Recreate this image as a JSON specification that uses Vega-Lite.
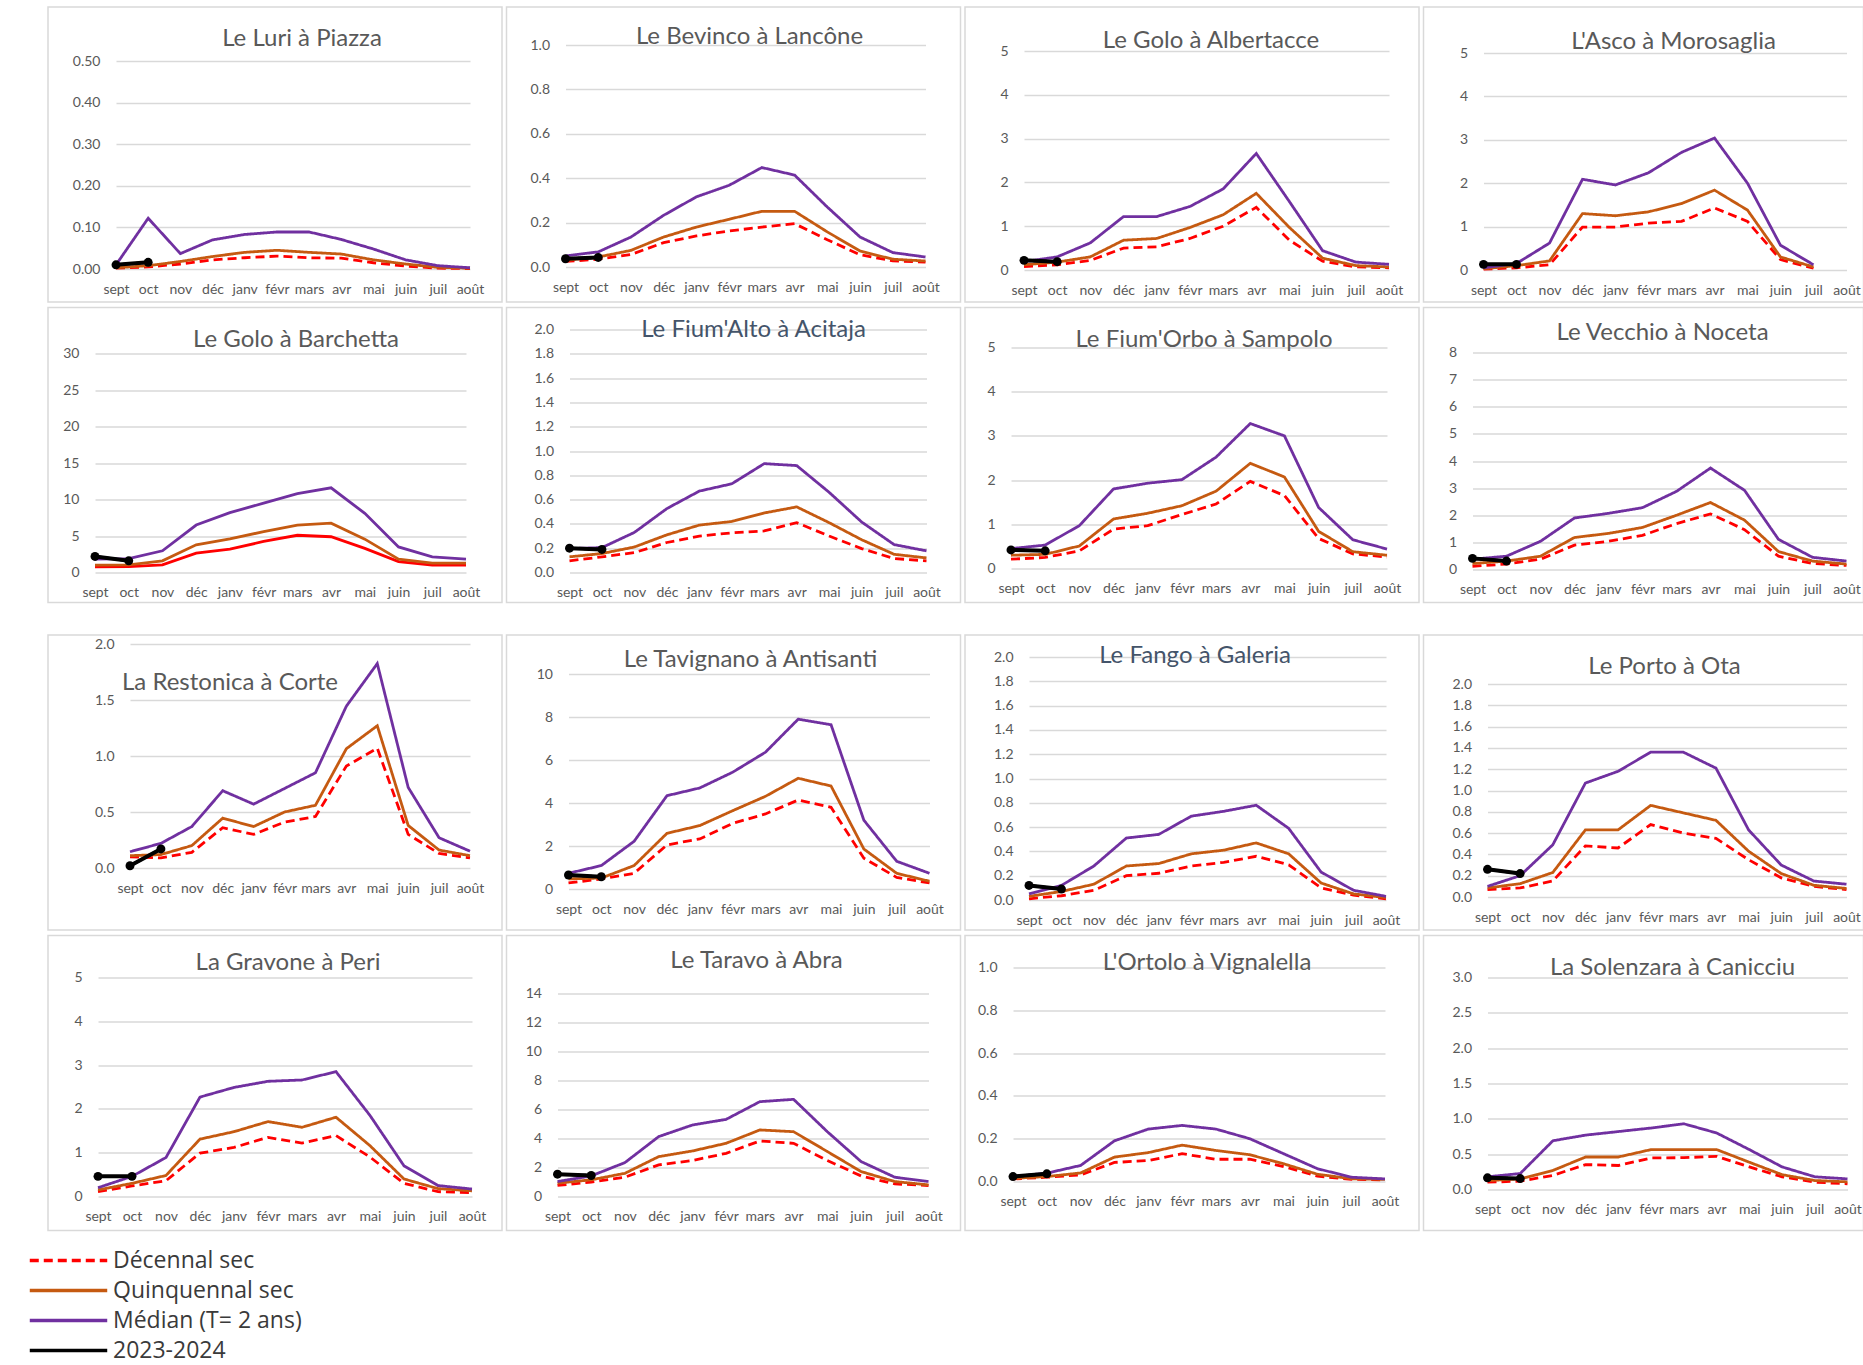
{
"$schema":"https://vega.github.io/schema/vega-lite/v6.json",
"padding":{"left":26,"top":6,"right":0,"bottom":0},
"background":"white",
"data":{"values":[
{"s":"p1","mois":"sept","dec":0.002,"quin":0.003,"med":0.010,"obs":0.010},
{"s":"p1","mois":"oct","dec":0.005,"quin":0.008,"med":0.122,"obs":0.016},
{"s":"p1","mois":"nov","dec":0.012,"quin":0.018,"med":0.037},
{"s":"p1","mois":"déc","dec":0.022,"quin":0.030,"med":0.070},
{"s":"p1","mois":"janv","dec":0.027,"quin":0.040,"med":0.083},
{"s":"p1","mois":"févr","dec":0.031,"quin":0.045,"med":0.089},
{"s":"p1","mois":"mars","dec":0.027,"quin":0.040,"med":0.089},
{"s":"p1","mois":"avr","dec":0.026,"quin":0.036,"med":0.071},
{"s":"p1","mois":"mai","dec":0.015,"quin":0.022,"med":0.048},
{"s":"p1","mois":"juin","dec":0.007,"quin":0.012,"med":0.022},
{"s":"p1","mois":"juil","dec":0.002,"quin":0.004,"med":0.008},
{"s":"p1","mois":"août","dec":0.001,"quin":0.002,"med":0.003},
{"s":"p2","mois":"sept","dec":0.025,"quin":0.030,"med":0.050,"obs":0.037},
{"s":"p2","mois":"oct","dec":0.035,"quin":0.045,"med":0.068,"obs":0.043},
{"s":"p2","mois":"nov","dec":0.056,"quin":0.075,"med":0.135},
{"s":"p2","mois":"déc","dec":0.110,"quin":0.135,"med":0.233},
{"s":"p2","mois":"janv","dec":0.140,"quin":0.180,"med":0.316},
{"s":"p2","mois":"févr","dec":0.162,"quin":0.215,"med":0.368},
{"s":"p2","mois":"mars","dec":0.180,"quin":0.251,"med":0.448},
{"s":"p2","mois":"avr","dec":0.195,"quin":0.251,"med":0.414},
{"s":"p2","mois":"mai","dec":0.123,"quin":0.158,"med":0.270},
{"s":"p2","mois":"juin","dec":0.055,"quin":0.072,"med":0.135},
{"s":"p2","mois":"juil","dec":0.028,"quin":0.035,"med":0.065},
{"s":"p2","mois":"août","dec":0.022,"quin":0.027,"med":0.045},
{"s":"p3","mois":"sept","dec":0.08,"quin":0.12,"med":0.19,"obs":0.22},
{"s":"p3","mois":"oct","dec":0.12,"quin":0.18,"med":0.30,"obs":0.19},
{"s":"p3","mois":"nov","dec":0.22,"quin":0.30,"med":0.62},
{"s":"p3","mois":"déc","dec":0.50,"quin":0.68,"med":1.22},
{"s":"p3","mois":"janv","dec":0.53,"quin":0.72,"med":1.22},
{"s":"p3","mois":"févr","dec":0.72,"quin":0.97,"med":1.45},
{"s":"p3","mois":"mars","dec":1.00,"quin":1.26,"med":1.85},
{"s":"p3","mois":"avr","dec":1.43,"quin":1.75,"med":2.66},
{"s":"p3","mois":"mai","dec":0.68,"quin":0.97,"med":1.56},
{"s":"p3","mois":"juin","dec":0.20,"quin":0.27,"med":0.44},
{"s":"p3","mois":"juil","dec":0.07,"quin":0.10,"med":0.18},
{"s":"p3","mois":"août","dec":0.05,"quin":0.07,"med":0.13},
{"s":"p4","mois":"sept","dec":0.02,"quin":0.03,"med":0.05,"obs":0.13},
{"s":"p4","mois":"oct","dec":0.05,"quin":0.10,"med":0.15,"obs":0.13},
{"s":"p4","mois":"nov","dec":0.12,"quin":0.21,"med":0.62},
{"s":"p4","mois":"déc","dec":0.99,"quin":1.30,"med":2.09},
{"s":"p4","mois":"janv","dec":0.99,"quin":1.25,"med":1.96},
{"s":"p4","mois":"févr","dec":1.08,"quin":1.34,"med":2.24},
{"s":"p4","mois":"mars","dec":1.12,"quin":1.53,"med":2.71},
{"s":"p4","mois":"avr","dec":1.43,"quin":1.84,"med":3.04},
{"s":"p4","mois":"mai","dec":1.12,"quin":1.38,"med":2.00},
{"s":"p4","mois":"juin","dec":0.24,"quin":0.30,"med":0.57},
{"s":"p4","mois":"juil","dec":0.04,"quin":0.07,"med":0.12},
{"s":"p5","mois":"sept","dec":0.78,"quin":1.00,"med":1.83,"obs":2.2},
{"s":"p5","mois":"oct","dec":0.80,"quin":1.05,"med":1.90,"obs":1.6},
{"s":"p5","mois":"nov","dec":1.05,"quin":1.6,"med":2.97},
{"s":"p5","mois":"déc","dec":2.65,"quin":3.8,"med":6.5},
{"s":"p5","mois":"janv","dec":3.2,"quin":4.6,"med":8.2},
{"s":"p5","mois":"févr","dec":4.25,"quin":5.6,"med":9.5},
{"s":"p5","mois":"mars","dec":5.1,"quin":6.5,"med":10.8},
{"s":"p5","mois":"avr","dec":4.9,"quin":6.76,"med":11.6},
{"s":"p5","mois":"mai","dec":3.3,"quin":4.57,"med":8.1},
{"s":"p5","mois":"juin","dec":1.5,"quin":1.83,"med":3.5},
{"s":"p5","mois":"juil","dec":1.0,"quin":1.28,"med":2.15},
{"s":"p5","mois":"août","dec":1.0,"quin":1.28,"med":1.83},
{"s":"p6","mois":"sept","dec":0.096,"quin":0.129,"med":0.197,"obs":0.20},
{"s":"p6","mois":"oct","dec":0.129,"quin":0.156,"med":0.205,"obs":0.19},
{"s":"p6","mois":"nov","dec":0.164,"quin":0.21,"med":0.33},
{"s":"p6","mois":"déc","dec":0.247,"quin":0.31,"med":0.526},
{"s":"p6","mois":"janv","dec":0.30,"quin":0.39,"med":0.67},
{"s":"p6","mois":"févr","dec":0.326,"quin":0.42,"med":0.73},
{"s":"p6","mois":"mars","dec":0.342,"quin":0.49,"med":0.896},
{"s":"p6","mois":"avr","dec":0.41,"quin":0.54,"med":0.88},
{"s":"p6","mois":"mai","dec":0.30,"quin":0.41,"med":0.66},
{"s":"p6","mois":"juin","dec":0.197,"quin":0.27,"med":0.416},
{"s":"p6","mois":"juil","dec":0.115,"quin":0.15,"med":0.23},
{"s":"p6","mois":"août","dec":0.096,"quin":0.12,"med":0.178},
{"s":"p7","mois":"sept","dec":0.21,"quin":0.30,"med":0.45,"obs":0.42},
{"s":"p7","mois":"oct","dec":0.25,"quin":0.32,"med":0.53,"obs":0.40},
{"s":"p7","mois":"nov","dec":0.40,"quin":0.51,"med":0.97},
{"s":"p7","mois":"déc","dec":0.89,"quin":1.12,"med":1.80},
{"s":"p7","mois":"janv","dec":0.97,"quin":1.25,"med":1.93},
{"s":"p7","mois":"févr","dec":1.22,"quin":1.42,"med":2.01},
{"s":"p7","mois":"mars","dec":1.46,"quin":1.75,"med":2.52},
{"s":"p7","mois":"avr","dec":1.97,"quin":2.38,"med":3.28},
{"s":"p7","mois":"mai","dec":1.65,"quin":2.07,"med":3.00},
{"s":"p7","mois":"juin","dec":0.68,"quin":0.84,"med":1.38},
{"s":"p7","mois":"juil","dec":0.33,"quin":0.38,"med":0.65},
{"s":"p7","mois":"août","dec":0.26,"quin":0.30,"med":0.44},
{"s":"p8","mois":"sept","dec":0.12,"quin":0.22,"med":0.38,"obs":0.41},
{"s":"p8","mois":"oct","dec":0.20,"quin":0.31,"med":0.49,"obs":0.31},
{"s":"p8","mois":"nov","dec":0.38,"quin":0.49,"med":1.04},
{"s":"p8","mois":"déc","dec":0.90,"quin":1.18,"med":1.90},
{"s":"p8","mois":"janv","dec":1.04,"quin":1.33,"med":2.07},
{"s":"p8","mois":"févr","dec":1.26,"quin":1.55,"med":2.28},
{"s":"p8","mois":"mars","dec":1.69,"quin":2.00,"med":2.88},
{"s":"p8","mois":"avr","dec":2.05,"quin":2.47,"med":3.74},
{"s":"p8","mois":"mai","dec":1.47,"quin":1.82,"med":2.92},
{"s":"p8","mois":"juin","dec":0.49,"quin":0.66,"med":1.11},
{"s":"p8","mois":"juil","dec":0.22,"quin":0.31,"med":0.45},
{"s":"p8","mois":"août","dec":0.15,"quin":0.20,"med":0.31},
{"s":"p9","mois":"sept","dec":0.10,"quin":0.11,"med":0.145,"obs":0.02},
{"s":"p9","mois":"oct","dec":0.09,"quin":0.12,"med":0.22,"obs":0.17},
{"s":"p9","mois":"nov","dec":0.14,"quin":0.20,"med":0.37},
{"s":"p9","mois":"déc","dec":0.36,"quin":0.445,"med":0.69},
{"s":"p9","mois":"janv","dec":0.30,"quin":0.37,"med":0.57},
{"s":"p9","mois":"févr","dec":0.41,"quin":0.50,"med":0.71},
{"s":"p9","mois":"mars","dec":0.46,"quin":0.56,"med":0.85},
{"s":"p9","mois":"avr","dec":0.91,"quin":1.065,"med":1.445},
{"s":"p9","mois":"mai","dec":1.07,"quin":1.27,"med":1.825},
{"s":"p9","mois":"juin","dec":0.30,"quin":0.38,"med":0.72},
{"s":"p9","mois":"juil","dec":0.13,"quin":0.16,"med":0.27},
{"s":"p9","mois":"août","dec":0.09,"quin":0.11,"med":0.15},
{"s":"p10","mois":"sept","dec":0.28,"quin":0.47,"med":0.73,"obs":0.65},
{"s":"p10","mois":"oct","dec":0.47,"quin":0.51,"med":1.09,"obs":0.57},
{"s":"p10","mois":"nov","dec":0.73,"quin":1.09,"med":2.22},
{"s":"p10","mois":"déc","dec":2.05,"quin":2.59,"med":4.34},
{"s":"p10","mois":"janv","dec":2.33,"quin":2.95,"med":4.70},
{"s":"p10","mois":"févr","dec":3.05,"quin":3.64,"med":5.43},
{"s":"p10","mois":"mars","dec":3.49,"quin":4.31,"med":6.36},
{"s":"p10","mois":"avr","dec":4.14,"quin":5.15,"med":7.90},
{"s":"p10","mois":"mai","dec":3.80,"quin":4.79,"med":7.64},
{"s":"p10","mois":"juin","dec":1.43,"quin":1.86,"med":3.20},
{"s":"p10","mois":"juil","dec":0.54,"quin":0.73,"med":1.29},
{"s":"p10","mois":"août","dec":0.28,"quin":0.36,"med":0.73},
{"s":"p11","mois":"sept","dec":0.01,"quin":0.03,"med":0.05,"obs":0.12},
{"s":"p11","mois":"oct","dec":0.035,"quin":0.07,"med":0.12,"obs":0.09},
{"s":"p11","mois":"nov","dec":0.08,"quin":0.13,"med":0.28},
{"s":"p11","mois":"déc","dec":0.20,"quin":0.28,"med":0.51},
{"s":"p11","mois":"janv","dec":0.22,"quin":0.30,"med":0.54},
{"s":"p11","mois":"févr","dec":0.28,"quin":0.38,"med":0.69},
{"s":"p11","mois":"mars","dec":0.31,"quin":0.41,"med":0.73},
{"s":"p11","mois":"avr","dec":0.36,"quin":0.47,"med":0.78},
{"s":"p11","mois":"mai","dec":0.29,"quin":0.38,"med":0.59},
{"s":"p11","mois":"juin","dec":0.10,"quin":0.14,"med":0.23},
{"s":"p11","mois":"juil","dec":0.04,"quin":0.05,"med":0.08},
{"s":"p11","mois":"août","dec":0.01,"quin":0.02,"med":0.03},
{"s":"p12","mois":"sept","dec":0.07,"quin":0.085,"med":0.10,"obs":0.26},
{"s":"p12","mois":"oct","dec":0.085,"quin":0.125,"med":0.20,"obs":0.22},
{"s":"p12","mois":"nov","dec":0.15,"quin":0.23,"med":0.49},
{"s":"p12","mois":"déc","dec":0.48,"quin":0.63,"med":1.07},
{"s":"p12","mois":"janv","dec":0.46,"quin":0.63,"med":1.18},
{"s":"p12","mois":"févr","dec":0.68,"quin":0.86,"med":1.36},
{"s":"p12","mois":"mars","dec":0.60,"quin":0.79,"med":1.36},
{"s":"p12","mois":"avr","dec":0.55,"quin":0.72,"med":1.21},
{"s":"p12","mois":"mai","dec":0.35,"quin":0.43,"med":0.63},
{"s":"p12","mois":"juin","dec":0.18,"quin":0.22,"med":0.30},
{"s":"p12","mois":"juil","dec":0.10,"quin":0.11,"med":0.15},
{"s":"p12","mois":"août","dec":0.07,"quin":0.08,"med":0.12},
{"s":"p13","mois":"sept","dec":0.11,"quin":0.15,"med":0.20,"obs":0.46},
{"s":"p13","mois":"oct","dec":0.24,"quin":0.30,"med":0.46,"obs":0.46},
{"s":"p13","mois":"nov","dec":0.36,"quin":0.48,"med":0.89},
{"s":"p13","mois":"déc","dec":0.99,"quin":1.31,"med":2.27},
{"s":"p13","mois":"janv","dec":1.12,"quin":1.48,"med":2.49},
{"s":"p13","mois":"févr","dec":1.35,"quin":1.71,"med":2.63},
{"s":"p13","mois":"mars","dec":1.22,"quin":1.58,"med":2.66},
{"s":"p13","mois":"avr","dec":1.39,"quin":1.81,"med":2.85},
{"s":"p13","mois":"mai","dec":0.90,"quin":1.16,"med":1.85},
{"s":"p13","mois":"juin","dec":0.30,"quin":0.40,"med":0.70},
{"s":"p13","mois":"juil","dec":0.11,"quin":0.18,"med":0.25},
{"s":"p13","mois":"août","dec":0.09,"quin":0.13,"med":0.17},
{"s":"p14","mois":"sept","dec":0.76,"quin":0.92,"med":1.03,"obs":1.54},
{"s":"p14","mois":"oct","dec":0.99,"quin":1.15,"med":1.42,"obs":1.45},
{"s":"p14","mois":"nov","dec":1.33,"quin":1.60,"med":2.34},
{"s":"p14","mois":"déc","dec":2.18,"quin":2.75,"med":4.13},
{"s":"p14","mois":"janv","dec":2.48,"quin":3.14,"med":4.93},
{"s":"p14","mois":"févr","dec":2.98,"quin":3.67,"med":5.32},
{"s":"p14","mois":"mars","dec":3.83,"quin":4.59,"med":6.54},
{"s":"p14","mois":"avr","dec":3.67,"quin":4.47,"med":6.70},
{"s":"p14","mois":"mai","dec":2.48,"quin":3.10,"med":4.47},
{"s":"p14","mois":"juin","dec":1.42,"quin":1.72,"med":2.41},
{"s":"p14","mois":"juil","dec":0.87,"quin":1.03,"med":1.33},
{"s":"p14","mois":"août","dec":0.76,"quin":0.80,"med":1.03},
{"s":"p15","mois":"sept","dec":0.012,"quin":0.015,"med":0.023,"obs":0.023},
{"s":"p15","mois":"oct","dec":0.020,"quin":0.023,"med":0.039,"obs":0.036},
{"s":"p15","mois":"nov","dec":0.031,"quin":0.040,"med":0.075},
{"s":"p15","mois":"déc","dec":0.089,"quin":0.114,"med":0.19},
{"s":"p15","mois":"janv","dec":0.098,"quin":0.135,"med":0.245},
{"s":"p15","mois":"févr","dec":0.13,"quin":0.17,"med":0.262},
{"s":"p15","mois":"mars","dec":0.104,"quin":0.145,"med":0.245},
{"s":"p15","mois":"avr","dec":0.104,"quin":0.125,"med":0.20},
{"s":"p15","mois":"mai","dec":0.07,"quin":0.083,"med":0.13},
{"s":"p15","mois":"juin","dec":0.025,"quin":0.034,"med":0.06},
{"s":"p15","mois":"juil","dec":0.01,"quin":0.013,"med":0.02},
{"s":"p15","mois":"août","dec":0.008,"quin":0.01,"med":0.012},
{"s":"p16","mois":"sept","dec":0.104,"quin":0.127,"med":0.18,"obs":0.165},
{"s":"p16","mois":"oct","dec":0.118,"quin":0.15,"med":0.226,"obs":0.155},
{"s":"p16","mois":"nov","dec":0.20,"quin":0.27,"med":0.69},
{"s":"p16","mois":"déc","dec":0.353,"quin":0.46,"med":0.77},
{"s":"p16","mois":"janv","dec":0.34,"quin":0.46,"med":0.82},
{"s":"p16","mois":"févr","dec":0.447,"quin":0.565,"med":0.87},
{"s":"p16","mois":"mars","dec":0.45,"quin":0.565,"med":0.93},
{"s":"p16","mois":"avr","dec":0.47,"quin":0.565,"med":0.80},
{"s":"p16","mois":"mai","dec":0.32,"quin":0.386,"med":0.565},
{"s":"p16","mois":"juin","dec":0.18,"quin":0.21,"med":0.32},
{"s":"p16","mois":"juil","dec":0.104,"quin":0.127,"med":0.18},
{"s":"p16","mois":"août","dec":0.08,"quin":0.108,"med":0.15}
]},
"config":{
"font":"Lato",
"view":{"stroke":"#d9d9d9","strokeWidth":1.5},
"title":{"font":"Lato","fontSize":24,"fontWeight":"normal","color":"#595959","anchor":"middle","baseline":"middle","frame":"group"},
"axis":{"labelFont":"Lato","labelFontSize":14,"labelColor":"#595959","ticks":false,"tickSize":0,"domain":false},
"axisX":{"grid":false,"labelPadding":13,"labelOverlap":false,"labelAngle":0},
"axisY":{"grid":true,"gridColor":"#d9d9d9","gridWidth":1.5,"labelPadding":10},
"legend":{"padding":0,"labelFont":"Open Sans","labelFontSize":23,"labelColor":"#3a3a3a","labelLimit":400}
},
"spacing":30,
"vconcat":[
{"spacing":3.5,"vconcat":[
{"spacing":2.5,"hconcat":[
{"width":454,"height":295,"title":{"text":"Le Luri à Piazza","dx":27,"offset":-44},
"transform":[{"filter":"datum.s=='p1'"},{"fold":["dec","quin","med","obs"],"as":["serie","debit"]}],
"encoding":{"x":{"field":"mois","type":"ordinal","scale":{"type":"point","padding":0,"domain":["sept","oct","nov","déc","janv","févr","mars","avr","mai","juin","juil","août"],"range":[68,422]},"axis":{"title":null,"offset":-33}},
"y":{"field":"debit","type":"quantitative","scale":{"domain":[0,0.5],"nice":false,"range":[262,54]},"axis":{"title":null,"values":[0,0.1,0.2,0.3,0.4,0.5],"format":".2f","offset":-62}}},
"layer":[
{"mark":{"type":"line","strokeWidth":2.8},"encoding":{
"color":{"field":"serie","type":"nominal","scale":{"domain":["dec","quin","med","obs"],"range":["#FF0000","#C55A11","#7030A0","#000000"]},"legend":{"title":null,"orient":"none","legendX":-22,"legendY":1242,"symbolType":"M-5,0H5","symbolSize":240,"symbolOffset":31,"labelOffset":33,"symbolStrokeWidth":3.5,"rowPadding":6,"labelExpr":"datum.label=='dec'?'Décennal sec':datum.label=='quin'?'Quinquennal sec':datum.label=='med'?'Médian (T= 2 ans)':'2023-2024'"}},
"strokeDash":{"field":"serie","type":"nominal","scale":{"domain":["dec","quin","med","obs"],"range":[[9,5],[1,0],[1,0],[1,0]]},"legend":{"title":null,"orient":"none","legendX":-22,"legendY":1242,"symbolType":"M-5,0H5","symbolSize":240,"symbolOffset":31,"labelOffset":33,"symbolStrokeWidth":3.5,"rowPadding":6,"labelExpr":"datum.label=='dec'?'Décennal sec':datum.label=='quin'?'Quinquennal sec':datum.label=='med'?'Médian (T= 2 ans)':'2023-2024'"}}}},
{"transform":[{"filter":"datum.serie=='obs'"}],"mark":{"type":"line","color":"#000000","strokeWidth":4,"point":{"filled":true,"size":80,"color":"#000000"}},"encoding":{}}
]},
{"width":454,"height":295,"title":{"text":"Le Bevinco à Lancône","dx":16,"offset":-42},
"transform":[{"filter":"datum.s=='p2'"},{"fold":["dec","quin","med","obs"],"as":["serie","debit"]}],
"encoding":{"x":{"field":"mois","type":"ordinal","scale":{"type":"point","padding":0,"domain":["sept","oct","nov","déc","janv","févr","mars","avr","mai","juin","juil","août"],"range":[59,419]},"axis":{"title":null,"offset":-35}},
"y":{"field":"debit","type":"quantitative","scale":{"domain":[0,1],"nice":false,"range":[260,38]},"axis":{"title":null,"values":[0,0.2,0.4,0.6,0.8,1.0],"format":".1f","offset":-53}}},
"layer":[
{"mark":{"type":"line","strokeWidth":2.8},"encoding":{
"color":{"field":"serie","type":"nominal","scale":{"domain":["dec","quin","med","obs"],"range":["#FF0000","#C55A11","#7030A0","#000000"]},"legend":{"title":null,"orient":"none","legendX":-22,"legendY":1242,"symbolType":"M-5,0H5","symbolSize":240,"symbolOffset":31,"labelOffset":33,"symbolStrokeWidth":3.5,"rowPadding":6,"labelExpr":"datum.label=='dec'?'Décennal sec':datum.label=='quin'?'Quinquennal sec':datum.label=='med'?'Médian (T= 2 ans)':'2023-2024'"}},
"strokeDash":{"field":"serie","type":"nominal","scale":{"domain":["dec","quin","med","obs"],"range":[[9,5],[1,0],[1,0],[1,0]]},"legend":{"title":null,"orient":"none","legendX":-22,"legendY":1242,"symbolType":"M-5,0H5","symbolSize":240,"symbolOffset":31,"labelOffset":33,"symbolStrokeWidth":3.5,"rowPadding":6,"labelExpr":"datum.label=='dec'?'Décennal sec':datum.label=='quin'?'Quinquennal sec':datum.label=='med'?'Médian (T= 2 ans)':'2023-2024'"}}}},
{"transform":[{"filter":"datum.serie=='obs'"}],"mark":{"type":"line","color":"#000000","strokeWidth":4,"point":{"filled":true,"size":80,"color":"#000000"}},"encoding":{}}
]},
{"width":454,"height":295,"title":{"text":"Le Golo à Albertacce","dx":19,"offset":-46},
"transform":[{"filter":"datum.s=='p3'"},{"fold":["dec","quin","med","obs"],"as":["serie","debit"]}],
"encoding":{"x":{"field":"mois","type":"ordinal","scale":{"type":"point","padding":0,"domain":["sept","oct","nov","déc","janv","févr","mars","avr","mai","juin","juil","août"],"range":[59,424]},"axis":{"title":null,"offset":-32}},
"y":{"field":"debit","type":"quantitative","scale":{"domain":[0,5],"nice":false,"range":[263,44]},"axis":{"title":null,"values":[0,1,2,3,4,5],"format":"d","offset":-53}}},
"layer":[
{"mark":{"type":"line","strokeWidth":2.8},"encoding":{
"color":{"field":"serie","type":"nominal","scale":{"domain":["dec","quin","med","obs"],"range":["#FF0000","#C55A11","#7030A0","#000000"]},"legend":{"title":null,"orient":"none","legendX":-22,"legendY":1242,"symbolType":"M-5,0H5","symbolSize":240,"symbolOffset":31,"labelOffset":33,"symbolStrokeWidth":3.5,"rowPadding":6,"labelExpr":"datum.label=='dec'?'Décennal sec':datum.label=='quin'?'Quinquennal sec':datum.label=='med'?'Médian (T= 2 ans)':'2023-2024'"}},
"strokeDash":{"field":"serie","type":"nominal","scale":{"domain":["dec","quin","med","obs"],"range":[[9,5],[1,0],[1,0],[1,0]]},"legend":{"title":null,"orient":"none","legendX":-22,"legendY":1242,"symbolType":"M-5,0H5","symbolSize":240,"symbolOffset":31,"labelOffset":33,"symbolStrokeWidth":3.5,"rowPadding":6,"labelExpr":"datum.label=='dec'?'Décennal sec':datum.label=='quin'?'Quinquennal sec':datum.label=='med'?'Médian (T= 2 ans)':'2023-2024'"}}}},
{"transform":[{"filter":"datum.serie=='obs'"}],"mark":{"type":"line","color":"#000000","strokeWidth":4,"point":{"filled":true,"size":80,"color":"#000000"}},"encoding":{}}
]},
{"width":440,"height":295,"title":{"text":"L'Asco à Morosaglia","dx":30,"offset":-47},
"transform":[{"filter":"datum.s=='p4'"},{"fold":["dec","quin","med","obs"],"as":["serie","debit"]}],
"encoding":{"x":{"field":"mois","type":"ordinal","scale":{"type":"point","padding":0,"domain":["sept","oct","nov","déc","janv","févr","mars","avr","mai","juin","juil","août"],"range":[60,423]},"axis":{"title":null,"offset":-32}},
"y":{"field":"debit","type":"quantitative","scale":{"domain":[0,5],"nice":false,"range":[263,46]},"axis":{"title":null,"values":[0,1,2,3,4,5],"format":"d","offset":-54}}},
"layer":[
{"mark":{"type":"line","strokeWidth":2.8},"encoding":{
"color":{"field":"serie","type":"nominal","scale":{"domain":["dec","quin","med","obs"],"range":["#FF0000","#C55A11","#7030A0","#000000"]},"legend":{"title":null,"orient":"none","legendX":-22,"legendY":1242,"symbolType":"M-5,0H5","symbolSize":240,"symbolOffset":31,"labelOffset":33,"symbolStrokeWidth":3.5,"rowPadding":6,"labelExpr":"datum.label=='dec'?'Décennal sec':datum.label=='quin'?'Quinquennal sec':datum.label=='med'?'Médian (T= 2 ans)':'2023-2024'"}},
"strokeDash":{"field":"serie","type":"nominal","scale":{"domain":["dec","quin","med","obs"],"range":[[9,5],[1,0],[1,0],[1,0]]},"legend":{"title":null,"orient":"none","legendX":-22,"legendY":1242,"symbolType":"M-5,0H5","symbolSize":240,"symbolOffset":31,"labelOffset":33,"symbolStrokeWidth":3.5,"rowPadding":6,"labelExpr":"datum.label=='dec'?'Décennal sec':datum.label=='quin'?'Quinquennal sec':datum.label=='med'?'Médian (T= 2 ans)':'2023-2024'"}}}},
{"transform":[{"filter":"datum.serie=='obs'"}],"mark":{"type":"line","color":"#000000","strokeWidth":4,"point":{"filled":true,"size":80,"color":"#000000"}},"encoding":{}}
]}
]},
{"spacing":2.5,"hconcat":[
{"width":454,"height":295,"title":{"text":"Le Golo à Barchetta","dx":21,"offset":-44},
"transform":[{"filter":"datum.s=='p5'"},{"fold":["dec","quin","med","obs"],"as":["serie","debit"]}],
"encoding":{"x":{"field":"mois","type":"ordinal","scale":{"type":"point","padding":0,"domain":["sept","oct","nov","déc","janv","févr","mars","avr","mai","juin","juil","août"],"range":[47,418]},"axis":{"title":null,"offset":-30}},
"y":{"field":"debit","type":"quantitative","scale":{"domain":[0,30],"nice":false,"range":[265,46]},"axis":{"title":null,"values":[0,5,10,15,20,25,30],"format":"d","offset":-41}}},
"layer":[
{"mark":{"type":"line","strokeWidth":2.8},"encoding":{
"color":{"field":"serie","type":"nominal","scale":{"domain":["dec","quin","med","obs"],"range":["#FF0000","#C55A11","#7030A0","#000000"]},"legend":{"title":null,"orient":"none","legendX":-22,"legendY":1242,"symbolType":"M-5,0H5","symbolSize":240,"symbolOffset":31,"labelOffset":33,"symbolStrokeWidth":3.5,"rowPadding":6,"labelExpr":"datum.label=='dec'?'Décennal sec':datum.label=='quin'?'Quinquennal sec':datum.label=='med'?'Médian (T= 2 ans)':'2023-2024'"}}}},
{"transform":[{"filter":"datum.serie=='obs'"}],"mark":{"type":"line","color":"#000000","strokeWidth":4,"point":{"filled":true,"size":80,"color":"#000000"}},"encoding":{}}
]},
{"width":454,"height":295,"title":{"text":"Le Fium'Alto à Acitaja","dx":20,"offset":-34,"color":"#44546A"},
"transform":[{"filter":"datum.s=='p6'"},{"fold":["dec","quin","med","obs"],"as":["serie","debit"]}],
"encoding":{"x":{"field":"mois","type":"ordinal","scale":{"type":"point","padding":0,"domain":["sept","oct","nov","déc","janv","févr","mars","avr","mai","juin","juil","août"],"range":[63,420]},"axis":{"title":null,"offset":-30}},
"y":{"field":"debit","type":"quantitative","scale":{"domain":[0,2],"nice":false,"range":[265,22]},"axis":{"title":null,"values":[0,0.2,0.4,0.6,0.8,1.0,1.2,1.4,1.6,1.8,2.0],"format":".1f","offset":-57}}},
"layer":[
{"mark":{"type":"line","strokeWidth":2.8},"encoding":{
"color":{"field":"serie","type":"nominal","scale":{"domain":["dec","quin","med","obs"],"range":["#FF0000","#C55A11","#7030A0","#000000"]},"legend":{"title":null,"orient":"none","legendX":-22,"legendY":1242,"symbolType":"M-5,0H5","symbolSize":240,"symbolOffset":31,"labelOffset":33,"symbolStrokeWidth":3.5,"rowPadding":6,"labelExpr":"datum.label=='dec'?'Décennal sec':datum.label=='quin'?'Quinquennal sec':datum.label=='med'?'Médian (T= 2 ans)':'2023-2024'"}},
"strokeDash":{"field":"serie","type":"nominal","scale":{"domain":["dec","quin","med","obs"],"range":[[9,5],[1,0],[1,0],[1,0]]},"legend":{"title":null,"orient":"none","legendX":-22,"legendY":1242,"symbolType":"M-5,0H5","symbolSize":240,"symbolOffset":31,"labelOffset":33,"symbolStrokeWidth":3.5,"rowPadding":6,"labelExpr":"datum.label=='dec'?'Décennal sec':datum.label=='quin'?'Quinquennal sec':datum.label=='med'?'Médian (T= 2 ans)':'2023-2024'"}}}},
{"transform":[{"filter":"datum.serie=='obs'"}],"mark":{"type":"line","color":"#000000","strokeWidth":4,"point":{"filled":true,"size":80,"color":"#000000"}},"encoding":{}}
]},
{"width":454,"height":295,"title":{"text":"Le Fium'Orbo à Sampolo","dx":12,"offset":-44},
"transform":[{"filter":"datum.s=='p7'"},{"fold":["dec","quin","med","obs"],"as":["serie","debit"]}],
"encoding":{"x":{"field":"mois","type":"ordinal","scale":{"type":"point","padding":0,"domain":["sept","oct","nov","déc","janv","févr","mars","avr","mai","juin","juil","août"],"range":[46,422]},"axis":{"title":null,"offset":-34}},
"y":{"field":"debit","type":"quantitative","scale":{"domain":[0,5],"nice":false,"range":[261,40]},"axis":{"title":null,"values":[0,1,2,3,4,5],"format":"d","offset":-40}}},
"layer":[
{"mark":{"type":"line","strokeWidth":2.8},"encoding":{
"color":{"field":"serie","type":"nominal","scale":{"domain":["dec","quin","med","obs"],"range":["#FF0000","#C55A11","#7030A0","#000000"]},"legend":{"title":null,"orient":"none","legendX":-22,"legendY":1242,"symbolType":"M-5,0H5","symbolSize":240,"symbolOffset":31,"labelOffset":33,"symbolStrokeWidth":3.5,"rowPadding":6,"labelExpr":"datum.label=='dec'?'Décennal sec':datum.label=='quin'?'Quinquennal sec':datum.label=='med'?'Médian (T= 2 ans)':'2023-2024'"}},
"strokeDash":{"field":"serie","type":"nominal","scale":{"domain":["dec","quin","med","obs"],"range":[[9,5],[1,0],[1,0],[1,0]]},"legend":{"title":null,"orient":"none","legendX":-22,"legendY":1242,"symbolType":"M-5,0H5","symbolSize":240,"symbolOffset":31,"labelOffset":33,"symbolStrokeWidth":3.5,"rowPadding":6,"labelExpr":"datum.label=='dec'?'Décennal sec':datum.label=='quin'?'Quinquennal sec':datum.label=='med'?'Médian (T= 2 ans)':'2023-2024'"}}}},
{"transform":[{"filter":"datum.serie=='obs'"}],"mark":{"type":"line","color":"#000000","strokeWidth":4,"point":{"filled":true,"size":80,"color":"#000000"}},"encoding":{}}
]},
{"width":440,"height":295,"title":{"text":"Le Vecchio à Noceta","dx":19,"offset":-37},
"transform":[{"filter":"datum.s=='p8'"},{"fold":["dec","quin","med","obs"],"as":["serie","debit"]}],
"encoding":{"x":{"field":"mois","type":"ordinal","scale":{"type":"point","padding":0,"domain":["sept","oct","nov","déc","janv","févr","mars","avr","mai","juin","juil","août"],"range":[49,423]},"axis":{"title":null,"offset":-33}},
"y":{"field":"debit","type":"quantitative","scale":{"domain":[0,8],"nice":false,"range":[262,45]},"axis":{"title":null,"values":[0,1,2,3,4,5,6,7,8],"format":"d","offset":-43}}},
"layer":[
{"mark":{"type":"line","strokeWidth":2.8},"encoding":{
"color":{"field":"serie","type":"nominal","scale":{"domain":["dec","quin","med","obs"],"range":["#FF0000","#C55A11","#7030A0","#000000"]},"legend":{"title":null,"orient":"none","legendX":-22,"legendY":1242,"symbolType":"M-5,0H5","symbolSize":240,"symbolOffset":31,"labelOffset":33,"symbolStrokeWidth":3.5,"rowPadding":6,"labelExpr":"datum.label=='dec'?'Décennal sec':datum.label=='quin'?'Quinquennal sec':datum.label=='med'?'Médian (T= 2 ans)':'2023-2024'"}},
"strokeDash":{"field":"serie","type":"nominal","scale":{"domain":["dec","quin","med","obs"],"range":[[9,5],[1,0],[1,0],[1,0]]},"legend":{"title":null,"orient":"none","legendX":-22,"legendY":1242,"symbolType":"M-5,0H5","symbolSize":240,"symbolOffset":31,"labelOffset":33,"symbolStrokeWidth":3.5,"rowPadding":6,"labelExpr":"datum.label=='dec'?'Décennal sec':datum.label=='quin'?'Quinquennal sec':datum.label=='med'?'Médian (T= 2 ans)':'2023-2024'"}}}},
{"transform":[{"filter":"datum.serie=='obs'"}],"mark":{"type":"line","color":"#000000","strokeWidth":4,"point":{"filled":true,"size":80,"color":"#000000"}},"encoding":{}}
]}
]}
]},
{"spacing":3.5,"vconcat":[
{"spacing":2.5,"hconcat":[
{"width":454,"height":295,"title":{"text":"La Restonica à Corte","dx":-45,"offset":-60},
"transform":[{"filter":"datum.s=='p9'"},{"fold":["dec","quin","med","obs"],"as":["serie","debit"]}],
"encoding":{"x":{"field":"mois","type":"ordinal","scale":{"type":"point","padding":0,"domain":["sept","oct","nov","déc","janv","févr","mars","avr","mai","juin","juil","août"],"range":[82,422]},"axis":{"title":null,"offset":-62}},
"y":{"field":"debit","type":"quantitative","scale":{"domain":[0,2],"nice":false,"range":[233,9]},"axis":{"title":null,"values":[0,0.5,1.0,1.5,2.0],"format":".1f","offset":-76}}},
"layer":[
{"mark":{"type":"line","strokeWidth":2.8},"encoding":{
"color":{"field":"serie","type":"nominal","scale":{"domain":["dec","quin","med","obs"],"range":["#FF0000","#C55A11","#7030A0","#000000"]},"legend":{"title":null,"orient":"none","legendX":-22,"legendY":1242,"symbolType":"M-5,0H5","symbolSize":240,"symbolOffset":31,"labelOffset":33,"symbolStrokeWidth":3.5,"rowPadding":6,"labelExpr":"datum.label=='dec'?'Décennal sec':datum.label=='quin'?'Quinquennal sec':datum.label=='med'?'Médian (T= 2 ans)':'2023-2024'"}},
"strokeDash":{"field":"serie","type":"nominal","scale":{"domain":["dec","quin","med","obs"],"range":[[9,5],[1,0],[1,0],[1,0]]},"legend":{"title":null,"orient":"none","legendX":-22,"legendY":1242,"symbolType":"M-5,0H5","symbolSize":240,"symbolOffset":31,"labelOffset":33,"symbolStrokeWidth":3.5,"rowPadding":6,"labelExpr":"datum.label=='dec'?'Décennal sec':datum.label=='quin'?'Quinquennal sec':datum.label=='med'?'Médian (T= 2 ans)':'2023-2024'"}}}},
{"transform":[{"filter":"datum.serie=='obs'"}],"mark":{"type":"line","color":"#000000","strokeWidth":4,"point":{"filled":true,"size":80,"color":"#000000"}},"encoding":{}}
]},
{"width":454,"height":295,"title":{"text":"Le Tavignano à Antisanti","dx":17,"offset":-37},
"transform":[{"filter":"datum.s=='p10'"},{"fold":["dec","quin","med","obs"],"as":["serie","debit"]}],
"encoding":{"x":{"field":"mois","type":"ordinal","scale":{"type":"point","padding":0,"domain":["sept","oct","nov","déc","janv","févr","mars","avr","mai","juin","juil","août"],"range":[62,423]},"axis":{"title":null,"offset":-41}},
"y":{"field":"debit","type":"quantitative","scale":{"domain":[0,10],"nice":false,"range":[254,39]},"axis":{"title":null,"values":[0,2,4,6,8,10],"format":"d","offset":-56}}},
"layer":[
{"mark":{"type":"line","strokeWidth":2.8},"encoding":{
"color":{"field":"serie","type":"nominal","scale":{"domain":["dec","quin","med","obs"],"range":["#FF0000","#C55A11","#7030A0","#000000"]},"legend":{"title":null,"orient":"none","legendX":-22,"legendY":1242,"symbolType":"M-5,0H5","symbolSize":240,"symbolOffset":31,"labelOffset":33,"symbolStrokeWidth":3.5,"rowPadding":6,"labelExpr":"datum.label=='dec'?'Décennal sec':datum.label=='quin'?'Quinquennal sec':datum.label=='med'?'Médian (T= 2 ans)':'2023-2024'"}},
"strokeDash":{"field":"serie","type":"nominal","scale":{"domain":["dec","quin","med","obs"],"range":[[9,5],[1,0],[1,0],[1,0]]},"legend":{"title":null,"orient":"none","legendX":-22,"legendY":1242,"symbolType":"M-5,0H5","symbolSize":240,"symbolOffset":31,"labelOffset":33,"symbolStrokeWidth":3.5,"rowPadding":6,"labelExpr":"datum.label=='dec'?'Décennal sec':datum.label=='quin'?'Quinquennal sec':datum.label=='med'?'Médian (T= 2 ans)':'2023-2024'"}}}},
{"transform":[{"filter":"datum.serie=='obs'"}],"mark":{"type":"line","color":"#000000","strokeWidth":4,"point":{"filled":true,"size":80,"color":"#000000"}},"encoding":{}}
]},
{"width":454,"height":295,"title":{"text":"Le Fango à Galeria","dx":3,"offset":-33,"color":"#44546A"},
"transform":[{"filter":"datum.s=='p11'"},{"fold":["dec","quin","med","obs"],"as":["serie","debit"]}],
"encoding":{"x":{"field":"mois","type":"ordinal","scale":{"type":"point","padding":0,"domain":["sept","oct","nov","déc","janv","févr","mars","avr","mai","juin","juil","août"],"range":[64,421]},"axis":{"title":null,"offset":-30}},
"y":{"field":"debit","type":"quantitative","scale":{"domain":[0,2],"nice":false,"range":[265,22]},"axis":{"title":null,"values":[0,0.2,0.4,0.6,0.8,1.0,1.2,1.4,1.6,1.8,2.0],"format":".1f","offset":-58}}},
"layer":[
{"mark":{"type":"line","strokeWidth":2.8},"encoding":{
"color":{"field":"serie","type":"nominal","scale":{"domain":["dec","quin","med","obs"],"range":["#FF0000","#C55A11","#7030A0","#000000"]},"legend":{"title":null,"orient":"none","legendX":-22,"legendY":1242,"symbolType":"M-5,0H5","symbolSize":240,"symbolOffset":31,"labelOffset":33,"symbolStrokeWidth":3.5,"rowPadding":6,"labelExpr":"datum.label=='dec'?'Décennal sec':datum.label=='quin'?'Quinquennal sec':datum.label=='med'?'Médian (T= 2 ans)':'2023-2024'"}},
"strokeDash":{"field":"serie","type":"nominal","scale":{"domain":["dec","quin","med","obs"],"range":[[9,5],[1,0],[1,0],[1,0]]},"legend":{"title":null,"orient":"none","legendX":-22,"legendY":1242,"symbolType":"M-5,0H5","symbolSize":240,"symbolOffset":31,"labelOffset":33,"symbolStrokeWidth":3.5,"rowPadding":6,"labelExpr":"datum.label=='dec'?'Décennal sec':datum.label=='quin'?'Quinquennal sec':datum.label=='med'?'Médian (T= 2 ans)':'2023-2024'"}}}},
{"transform":[{"filter":"datum.serie=='obs'"}],"mark":{"type":"line","color":"#000000","strokeWidth":4,"point":{"filled":true,"size":80,"color":"#000000"}},"encoding":{}}
]},
{"width":440,"height":295,"title":{"text":"Le Porto à Ota","dx":21,"offset":-44},
"transform":[{"filter":"datum.s=='p12'"},{"fold":["dec","quin","med","obs"],"as":["serie","debit"]}],
"encoding":{"x":{"field":"mois","type":"ordinal","scale":{"type":"point","padding":0,"domain":["sept","oct","nov","déc","janv","févr","mars","avr","mai","juin","juil","août"],"range":[64,423]},"axis":{"title":null,"offset":-33}},
"y":{"field":"debit","type":"quantitative","scale":{"domain":[0,2],"nice":false,"range":[262,49]},"axis":{"title":null,"values":[0,0.2,0.4,0.6,0.8,1.0,1.2,1.4,1.6,1.8,2.0],"format":".1f","offset":-58}}},
"layer":[
{"mark":{"type":"line","strokeWidth":2.8},"encoding":{
"color":{"field":"serie","type":"nominal","scale":{"domain":["dec","quin","med","obs"],"range":["#FF0000","#C55A11","#7030A0","#000000"]},"legend":{"title":null,"orient":"none","legendX":-22,"legendY":1242,"symbolType":"M-5,0H5","symbolSize":240,"symbolOffset":31,"labelOffset":33,"symbolStrokeWidth":3.5,"rowPadding":6,"labelExpr":"datum.label=='dec'?'Décennal sec':datum.label=='quin'?'Quinquennal sec':datum.label=='med'?'Médian (T= 2 ans)':'2023-2024'"}},
"strokeDash":{"field":"serie","type":"nominal","scale":{"domain":["dec","quin","med","obs"],"range":[[9,5],[1,0],[1,0],[1,0]]},"legend":{"title":null,"orient":"none","legendX":-22,"legendY":1242,"symbolType":"M-5,0H5","symbolSize":240,"symbolOffset":31,"labelOffset":33,"symbolStrokeWidth":3.5,"rowPadding":6,"labelExpr":"datum.label=='dec'?'Décennal sec':datum.label=='quin'?'Quinquennal sec':datum.label=='med'?'Médian (T= 2 ans)':'2023-2024'"}}}},
{"transform":[{"filter":"datum.serie=='obs'"}],"mark":{"type":"line","color":"#000000","strokeWidth":4,"point":{"filled":true,"size":80,"color":"#000000"}},"encoding":{}}
]}
]},
{"spacing":2.5,"hconcat":[
{"width":454,"height":295,"title":{"text":"La Gravone à Peri","dx":13,"offset":-39},
"transform":[{"filter":"datum.s=='p13'"},{"fold":["dec","quin","med","obs"],"as":["serie","debit"]}],
"encoding":{"x":{"field":"mois","type":"ordinal","scale":{"type":"point","padding":0,"domain":["sept","oct","nov","déc","janv","févr","mars","avr","mai","juin","juil","août"],"range":[50,424]},"axis":{"title":null,"offset":-34}},
"y":{"field":"debit","type":"quantitative","scale":{"domain":[0,5],"nice":false,"range":[261,42]},"axis":{"title":null,"values":[0,1,2,3,4,5],"format":"d","offset":-44}}},
"layer":[
{"mark":{"type":"line","strokeWidth":2.8},"encoding":{
"color":{"field":"serie","type":"nominal","scale":{"domain":["dec","quin","med","obs"],"range":["#FF0000","#C55A11","#7030A0","#000000"]},"legend":{"title":null,"orient":"none","legendX":-22,"legendY":1242,"symbolType":"M-5,0H5","symbolSize":240,"symbolOffset":31,"labelOffset":33,"symbolStrokeWidth":3.5,"rowPadding":6,"labelExpr":"datum.label=='dec'?'Décennal sec':datum.label=='quin'?'Quinquennal sec':datum.label=='med'?'Médian (T= 2 ans)':'2023-2024'"}},
"strokeDash":{"field":"serie","type":"nominal","scale":{"domain":["dec","quin","med","obs"],"range":[[9,5],[1,0],[1,0],[1,0]]},"legend":{"title":null,"orient":"none","legendX":-22,"legendY":1242,"symbolType":"M-5,0H5","symbolSize":240,"symbolOffset":31,"labelOffset":33,"symbolStrokeWidth":3.5,"rowPadding":6,"labelExpr":"datum.label=='dec'?'Décennal sec':datum.label=='quin'?'Quinquennal sec':datum.label=='med'?'Médian (T= 2 ans)':'2023-2024'"}}}},
{"transform":[{"filter":"datum.serie=='obs'"}],"mark":{"type":"line","color":"#000000","strokeWidth":4,"point":{"filled":true,"size":80,"color":"#000000"}},"encoding":{}}
]},
{"width":454,"height":295,"title":{"text":"Le Taravo à Abra","dx":23,"offset":-37},
"transform":[{"filter":"datum.s=='p14'"},{"fold":["dec","quin","med","obs"],"as":["serie","debit"]}],
"encoding":{"x":{"field":"mois","type":"ordinal","scale":{"type":"point","padding":0,"domain":["sept","oct","nov","déc","janv","févr","mars","avr","mai","juin","juil","août"],"range":[51,422]},"axis":{"title":null,"offset":-34}},
"y":{"field":"debit","type":"quantitative","scale":{"domain":[0,14],"nice":false,"range":[261,58]},"axis":{"title":null,"values":[0,2,4,6,8,10,12,14],"format":"d","offset":-45}}},
"layer":[
{"mark":{"type":"line","strokeWidth":2.8},"encoding":{
"color":{"field":"serie","type":"nominal","scale":{"domain":["dec","quin","med","obs"],"range":["#FF0000","#C55A11","#7030A0","#000000"]},"legend":{"title":null,"orient":"none","legendX":-22,"legendY":1242,"symbolType":"M-5,0H5","symbolSize":240,"symbolOffset":31,"labelOffset":33,"symbolStrokeWidth":3.5,"rowPadding":6,"labelExpr":"datum.label=='dec'?'Décennal sec':datum.label=='quin'?'Quinquennal sec':datum.label=='med'?'Médian (T= 2 ans)':'2023-2024'"}},
"strokeDash":{"field":"serie","type":"nominal","scale":{"domain":["dec","quin","med","obs"],"range":[[9,5],[1,0],[1,0],[1,0]]},"legend":{"title":null,"orient":"none","legendX":-22,"legendY":1242,"symbolType":"M-5,0H5","symbolSize":240,"symbolOffset":31,"labelOffset":33,"symbolStrokeWidth":3.5,"rowPadding":6,"labelExpr":"datum.label=='dec'?'Décennal sec':datum.label=='quin'?'Quinquennal sec':datum.label=='med'?'Médian (T= 2 ans)':'2023-2024'"}}}},
{"transform":[{"filter":"datum.serie=='obs'"}],"mark":{"type":"line","color":"#000000","strokeWidth":4,"point":{"filled":true,"size":80,"color":"#000000"}},"encoding":{}}
]},
{"width":454,"height":295,"title":{"text":"L'Ortolo à Vignalella","dx":15,"offset":-39},
"transform":[{"filter":"datum.s=='p15'"},{"fold":["dec","quin","med","obs"],"as":["serie","debit"]}],
"encoding":{"x":{"field":"mois","type":"ordinal","scale":{"type":"point","padding":0,"domain":["sept","oct","nov","déc","janv","févr","mars","avr","mai","juin","juil","août"],"range":[48,420]},"axis":{"title":null,"offset":-49}},
"y":{"field":"debit","type":"quantitative","scale":{"domain":[0,1],"nice":false,"range":[246,32]},"axis":{"title":null,"values":[0,0.2,0.4,0.6,0.8,1.0],"format":".1f","offset":-42}}},
"layer":[
{"mark":{"type":"line","strokeWidth":2.8},"encoding":{
"color":{"field":"serie","type":"nominal","scale":{"domain":["dec","quin","med","obs"],"range":["#FF0000","#C55A11","#7030A0","#000000"]},"legend":{"title":null,"orient":"none","legendX":-22,"legendY":1242,"symbolType":"M-5,0H5","symbolSize":240,"symbolOffset":31,"labelOffset":33,"symbolStrokeWidth":3.5,"rowPadding":6,"labelExpr":"datum.label=='dec'?'Décennal sec':datum.label=='quin'?'Quinquennal sec':datum.label=='med'?'Médian (T= 2 ans)':'2023-2024'"}},
"strokeDash":{"field":"serie","type":"nominal","scale":{"domain":["dec","quin","med","obs"],"range":[[9,5],[1,0],[1,0],[1,0]]},"legend":{"title":null,"orient":"none","legendX":-22,"legendY":1242,"symbolType":"M-5,0H5","symbolSize":240,"symbolOffset":31,"labelOffset":33,"symbolStrokeWidth":3.5,"rowPadding":6,"labelExpr":"datum.label=='dec'?'Décennal sec':datum.label=='quin'?'Quinquennal sec':datum.label=='med'?'Médian (T= 2 ans)':'2023-2024'"}}}},
{"transform":[{"filter":"datum.serie=='obs'"}],"mark":{"type":"line","color":"#000000","strokeWidth":4,"point":{"filled":true,"size":80,"color":"#000000"}},"encoding":{}}
]},
{"width":440,"height":295,"title":{"text":"La Solenzara à Canicciu","dx":29,"offset":-44},
"transform":[{"filter":"datum.s=='p16'"},{"fold":["dec","quin","med","obs"],"as":["serie","debit"]}],
"encoding":{"x":{"field":"mois","type":"ordinal","scale":{"type":"point","padding":0,"domain":["sept","oct","nov","déc","janv","févr","mars","avr","mai","juin","juil","août"],"range":[64,424]},"axis":{"title":null,"offset":-41}},
"y":{"field":"debit","type":"quantitative","scale":{"domain":[0,3],"nice":false,"range":[254,42]},"axis":{"title":null,"values":[0,0.5,1.0,1.5,2.0,2.5,3.0],"format":".1f","offset":-58}}},
"layer":[
{"mark":{"type":"line","strokeWidth":2.8},"encoding":{
"color":{"field":"serie","type":"nominal","scale":{"domain":["dec","quin","med","obs"],"range":["#FF0000","#C55A11","#7030A0","#000000"]},"legend":{"title":null,"orient":"none","legendX":-22,"legendY":1242,"symbolType":"M-5,0H5","symbolSize":240,"symbolOffset":31,"labelOffset":33,"symbolStrokeWidth":3.5,"rowPadding":6,"labelExpr":"datum.label=='dec'?'Décennal sec':datum.label=='quin'?'Quinquennal sec':datum.label=='med'?'Médian (T= 2 ans)':'2023-2024'"}},
"strokeDash":{"field":"serie","type":"nominal","scale":{"domain":["dec","quin","med","obs"],"range":[[9,5],[1,0],[1,0],[1,0]]},"legend":{"title":null,"orient":"none","legendX":-22,"legendY":1242,"symbolType":"M-5,0H5","symbolSize":240,"symbolOffset":31,"labelOffset":33,"symbolStrokeWidth":3.5,"rowPadding":6,"labelExpr":"datum.label=='dec'?'Décennal sec':datum.label=='quin'?'Quinquennal sec':datum.label=='med'?'Médian (T= 2 ans)':'2023-2024'"}}}},
{"transform":[{"filter":"datum.serie=='obs'"}],"mark":{"type":"line","color":"#000000","strokeWidth":4,"point":{"filled":true,"size":80,"color":"#000000"}},"encoding":{}}
]}
]}
]}
]
}
